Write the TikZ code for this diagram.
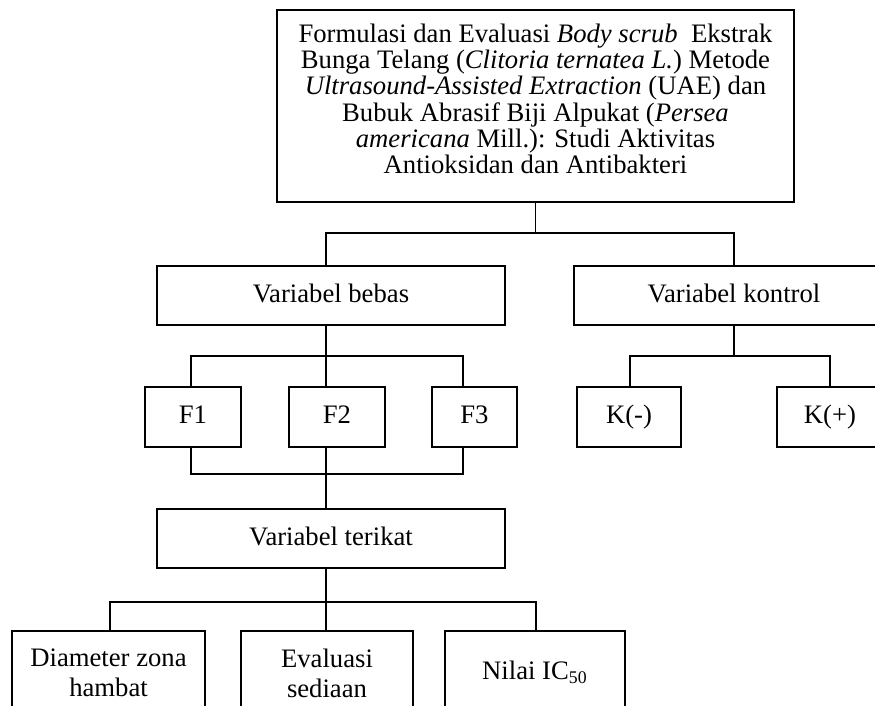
\documentclass[tikz,border=0pt]{standalone}
\usepackage{fontspec}
\setmainfont{Liberation Serif}

\newcommand{\pxu}{0.45pt}
\tikzstyle{kotak} = [draw=black, line width=0.9pt, rectangle, inner sep=0pt,
  align=center, font=\fontsize{12}{13.5}\selectfont]
\tikzstyle{satubaris} = [text height=8.4pt, text depth=2.4pt]
\tikzstyle{judulteks} = [inner sep=0pt, align=center,
  font=\fontsize{12}{11.8}\selectfont]
\tikzstyle{garis} = [draw=black, line width=0.5pt]

\begin{document}
\begin{tikzpicture}[x=0.45pt, y=-0.45pt]
        \useasboundingbox (0,0) rectangle (875,706);
        \clip (0,0) rectangle (875,706);

        % kotak-kotak
        \node [kotak, minimum width=517*\pxu, minimum height=192*\pxu] (judul) at (535.5,106) {};
        \node [judulteks, anchor=north] (judultxt) at ([yshift=-6.5pt]judul.north)
          {Formulasi dan Evaluasi \textit{Body scrub}\ \ Ekstrak\\
           Bunga Telang (\textit{Clitoria ternatea L.}) Metode\\
           \textit{Ultrasound-Assisted Extraction} (UAE) dan\\
           Bubuk Abrasif Biji Alpukat (\textit{Persea}\\
           \textit{americana} Mill.): Studi Aktivitas\\
           Antioksidan dan Antibakteri};
        \node [kotak, satubaris, minimum width=348*\pxu, minimum height=59*\pxu] (bebas)   at (331,295.5) {Variabel bebas};
        \node [kotak, satubaris, minimum width=320*\pxu, minimum height=59*\pxu] (kontrol) at (734,295.5) {Variabel kontrol};
        \node [kotak, satubaris, minimum width=96*\pxu,  minimum height=60*\pxu] (f1)      at (193,417)   {F1};
        \node [kotak, satubaris, minimum width=96*\pxu,  minimum height=60*\pxu] (f2)      at (337,417)   {F2};
        \node [kotak, satubaris, minimum width=85*\pxu,  minimum height=60*\pxu] (f3)      at (474.5,417) {F3};
        \node [kotak, satubaris, minimum width=104*\pxu, minimum height=60*\pxu] (kmin)    at (629,417)   {K(-)};
        \node [kotak, satubaris, minimum width=106*\pxu, minimum height=60*\pxu] (kplus)   at (830,417)   {K(+)};
        \node [kotak, satubaris, minimum width=348*\pxu, minimum height=59*\pxu] (terikat) at (331,538.5) {Variabel terikat};
        \node [kotak, minimum width=193*\pxu, minimum height=84*\pxu] (diameter) at (108.5,673) {Diameter zona\\hambat};
        \node [kotak, minimum width=172*\pxu, minimum height=84*\pxu] (evaluasi) at (327,673)   {Evaluasi\\sediaan};
        \node [kotak, satubaris, minimum width=180*\pxu, minimum height=84*\pxu] (nilai) at (535,673) {Nilai IC\textsubscript{50}};

        % titik cabang
        \coordinate (atas1) at (326,233);
        \coordinate (atas2) at (734,233);
        \coordinate (bb1) at (191,356);
        \coordinate (bb2) at (326,356);
        \coordinate (bb3) at (463,356);
        \coordinate (kk1) at (630,356);
        \coordinate (kk2) at (830,356);
        \coordinate (ff1) at (191,474);
        \coordinate (ff3) at (463,474);
        \coordinate (tt1) at (110,602);
        \coordinate (tt2) at (326,602);
        \coordinate (tt3) at (536,602);

        % garis penghubung
        \draw[garis] (judul.south) -- (judul.south |- atas1);
        \draw[garis] (atas1 |- bebas.north) -- (atas1) -- (atas2) -- (atas2 |- kontrol.north);
        \draw[garis] (bb2 |- bebas.south) -- (bb2) -- (bb2 |- f2.north);
        \draw[garis] (bb1 |- f1.north) -- (bb1) -- (bb3) -- (bb3 |- f3.north);
        \draw[garis] (kontrol.south) -- (kontrol.south |- kk1);
        \draw[garis] (kk1 |- kmin.north) -- (kk1) -- (kk2) -- (kk2 |- kplus.north);
        \draw[garis] (ff1 |- f1.south) -- (ff1) -- (ff3) -- (ff3 |- f3.south);
        \draw[garis] (bb2 |- f2.south) -- (bb2 |- terikat.north);
        \draw[garis] (tt2 |- terikat.south) -- (tt2) -- (tt2 |- evaluasi.north);
        \draw[garis] (tt1 |- diameter.north) -- (tt1) -- (tt3) -- (tt3 |- nilai.north);
      \end{tikzpicture}
\end{document}
